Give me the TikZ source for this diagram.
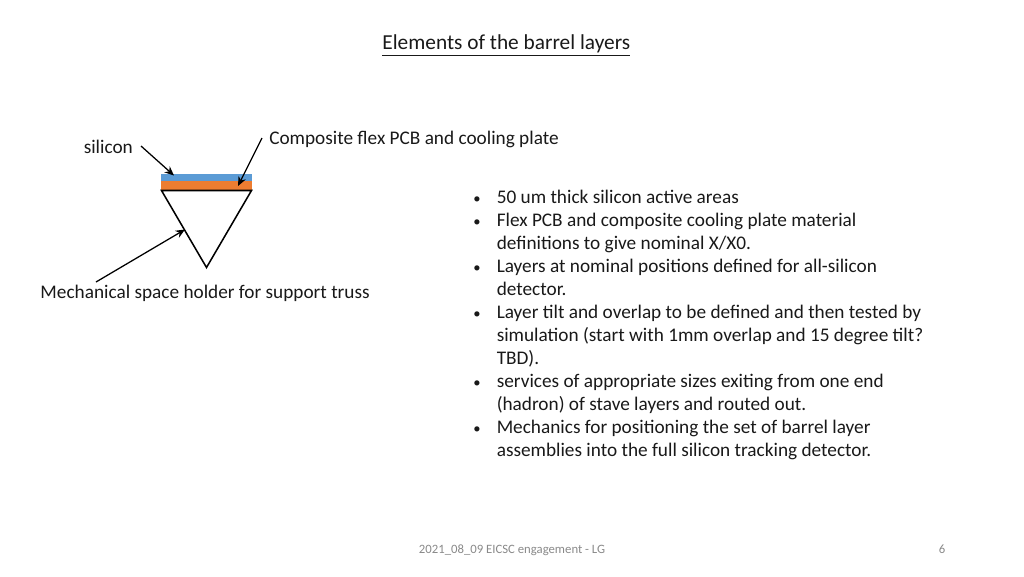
\documentclass[tikz,border=0pt]{standalone}
\usepackage{fontspec}
\setmainfont{Carlito}
\usetikzlibrary{arrows.meta}
\definecolor{gtext}{RGB}{137,137,137}
\definecolor{blu}{RGB}{91,155,213}
\definecolor{org}{RGB}{237,125,49}
\tikzset{
 px/.style={x=0.75pt,y=-0.75pt},
 lbl/.style={inner sep=0pt,anchor=base west,font=\fontsize{14.45pt}{17pt}\selectfont,text=black!90},
 bul/.style={inner sep=0pt,anchor=base,font=\fontsize{11pt}{13pt}\selectfont,text=black!90},
 arr/.style={draw=black,line width=0.95pt,-{Stealth[length=7pt,width=6pt]}},
 foot/.style={inner sep=0pt,anchor=base,text=gtext,font=\fontsize{9.55pt}{11pt}\selectfont},
}
\begin{document}
\begin{tikzpicture}[px]
\useasboundingbox (0,0) rectangle (1024,576);
\node[inner sep=0pt,anchor=base,font=\fontsize{16pt}{19pt}\selectfont,text=black!90] (title) at (506.3,49.8) {\underline{Elements of the barrel layers}};
\node[lbl] (si) at (83.5,153.5) {silicon};
\node[lbl] (flex) at (269,144.5) {Composite flex PCB and cooling plate};
\node[lbl] (mech) at (40.2,298.7) {Mechanical space holder for support truss};
\fill[blu] (161,174) rectangle (252,181);
\fill[org] (161,181) rectangle (252,190);
\coordinate (tl) at (161.5,190.5); \coordinate (tr) at (251.5,190.5); \coordinate (tb) at (206.5,267.5);
\draw[line width=1.15pt,line join=miter] (tl) -- (tr) -- (tb) -- cycle;
\coordinate (a1s) at (141,146); \coordinate (a1e) at (174,175.5);
\coordinate (a2s) at (262,138); \coordinate (a2e) at (238,186);
\coordinate (a3s) at (96,282); \coordinate (a3e) at (185,229.5);
\draw[arr] (a1s) -- (a1e);
\draw[arr] (a2s) -- (a2e);
\draw[arr] (a3s) -- (a3e);
\foreach \y/\t in {
203.6/{50 um thick silicon active areas},
226.6/{Flex PCB and composite cooling plate material},
249.6/{definitions to give nominal X/X0.},
272.6/{Layers at nominal positions defined for all-silicon},
295.6/{detector.},
318.6/{Layer tilt and overlap to be defined and then tested by},
341.6/{simulation (start with 1mm overlap and 15 degree tilt?},
364.6/{TBD).},
387.6/{services of appropriate sizes exiting from one end},
410.6/{(hadron) of stave layers and routed out.},
433.6/{Mechanics for positioning the set of barrel layer},
456.6/{assemblies into the full silicon tracking detector.}}
 {\node[lbl] at (496.5,\y) {\t};}
\foreach \y in {203.6,226.6,272.6,318.6,387.6,433.6}
 {\node[bul] at (477,\y) {•};}
\node[foot] (footer) at (512,553.3) {2021\_08\_09 EICSC engagement - LG};
\node[foot] (num) at (942,553.3) {6};
\end{tikzpicture}
\end{document}
